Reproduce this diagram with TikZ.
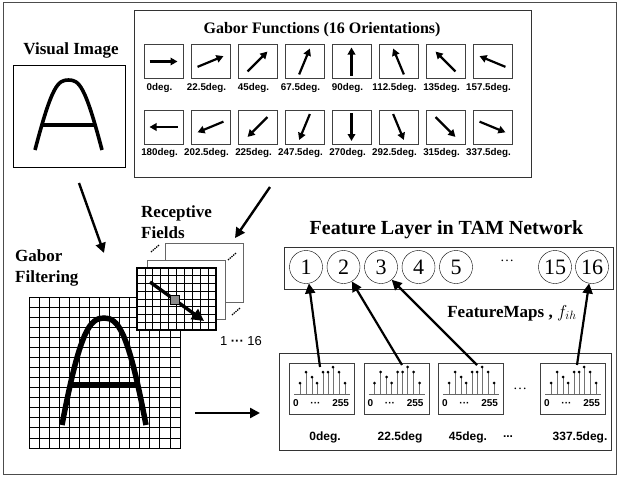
\documentclass[tikz,border=0pt]{standalone}
\usepackage{fontspec}
\setmainfont{Liberation Serif}
\setsansfont{Liberation Sans}
\usetikzlibrary{arrows.meta,calc}

\tikzset{
  ttl/.style={font=\bfseries\fontsize{17}{21}\selectfont, inner sep=0pt, align=left},
  gbox/.style={draw=black!75, minimum width=39pt, minimum height=34pt, inner sep=0pt},
  garrow/.style={-{Triangle[length=7pt,width=7.5pt]}, line width=2.2pt},
  deglab/.style={font=\sffamily\bfseries\fontsize{9.8}{10}\selectfont, inner sep=0pt},
  bigarrow/.style={-{Triangle[length=10pt,width=10pt]}, line width=2.4pt},
  gline/.style={line width=0.8pt},
  plane/.style={draw=black!60, fill=white, line width=1pt, minimum width=78pt, minimum height=59pt, inner sep=0pt},
  dots/.style={densely dotted, line width=1.3pt},
  unit/.style={draw, circle, minimum size=33pt, inner sep=0pt, font=\fontsize{22}{22}\selectfont},
  hbox/.style={draw=black!75, minimum width=65pt, minimum height=51pt, inner sep=0pt},
  stem/.style={black!55, line width=1pt},
  hlab/.style={font=\sffamily\bfseries\fontsize{10}{10}\selectfont, inner sep=0pt},
  hdeg/.style={font=\sffamily\bfseries\fontsize{12}{12}\selectfont, inner sep=0pt},
}

\begin{document}
\begin{tikzpicture}[x=1pt,y=-1pt]
  \useasboundingbox (0,0) rectangle (619,479);
  \draw[black!70] (3,2) rectangle (616,474);

  % visual image
  \node[ttl] (vtitle) at (71,50) {Visual Image};
  \node[draw, minimum width=112pt, minimum height=102pt, inner sep=0pt] (vis) at (69,116) {};
  \draw[line width=3.6pt] (35,150) .. controls (52,85) and (58,80) .. (68.5,80)
        .. controls (79,80) and (85,85) .. (102,150);
  \draw[line width=3.6pt] (42,125) -- (95,125);

  % gabor functions
  \node[draw=black!80, minimum width=397pt, minimum height=167pt, inner sep=0pt] (gab) at (332.5,93.5) {};
  \node[font=\bfseries\fontsize{16}{18}\selectfont] (gtitle) at (322,30) {Gabor Functions (16 Orientations)};
  \foreach \k/\a in {0/0,1/22.5,2/45,3/67.5,4/90,5/112.5,6/135,7/157.5,
                     8/180,9/202.5,10/225,11/247.5,12/270,13/292.5,14/315,15/337.5} {
    \pgfmathtruncatemacro\col{mod(\k,8)}
    \pgfmathtruncatemacro\row{int(\k/8)}
    \node[gbox] (g\k) at ({163.5+47*\col},{61.5+65.5*\row}) {};
    \draw[garrow] ($(g\k)+(180-\a:14)$) -- ($(g\k)+(-\a:14)$);
    \node[deglab] (gl\k) at ($(g\k.south)+(-4,9)$) {\a deg.};
  }

  % arrows into the filtering stage
  \coordinate (va) at (79,183);
  \coordinate (vb) at (104,253);
  \coordinate (ga) at (270,187);
  \coordinate (gb) at (235,238);
  \draw[bigarrow] (va) -- (vb);
  \draw[bigarrow] (ga) -- (gb);

  % gabor filtering
  \node[ttl, anchor=west] (gf) at (15,267.5) {Gabor\\Filtering};
  \node[draw, minimum size=151pt, inner sep=0pt] (bigg) at (104.5,372.5) {};
  \foreach \i in {0,...,15} {
    \draw[gline] ({29+151/15*\i},297) -- ({29+151/15*\i},448);
    \draw[gline] (29,{297+151/15*\i}) -- (180,{297+151/15*\i});
  }
  \draw[line width=5.5pt] (62,425) .. controls (80,330) and (90,318) .. (104,318)
        .. controls (118,318) and (128,330) .. (146,425);
  \draw[line width=5.5pt] (70,385) -- (138,385);

  % receptive fields
  \node[ttl, anchor=west] (rf) at (141,222.5) {Receptive\\Fields};
  \node[plane] (pl3) at (204,272.5) {};
  \node[plane] (pl2) at (186,289.5) {};
  \node[draw, fill=white, line width=1.2pt, minimum width=79pt, minimum height=62pt, inner sep=0pt] (rfg) at (176.5,299) {};
  \foreach \i in {1,...,9}
    \draw[gline] ({137+7.9*\i},268) -- ({137+7.9*\i},330);
  \foreach \j in {1,...,7}
    \draw[gline] (137,{268+7.75*\j}) -- (216,{268+7.75*\j});
  \coordinate (ra) at (150,282);
  \coordinate (rb) at (204,321);
  \draw[line width=3.4pt, -{Triangle[length=12pt,width=12pt]}] (ra) -- (rb);
  \node[draw, fill=black!45, minimum size=9pt, inner sep=0pt] (px) at (175,300) {};
  \draw[dots] (151,252) -- (159,245);
  \draw[dots] (228,260) -- (236,253);
  \draw[dots] (232,315) -- (240,308);
  \node[font=\sffamily\fontsize{13}{13}\selectfont, inner sep=0pt] (rng) at (241,341) {1 \textbf{···} 16};

  % feature layer
  \node[font=\bfseries\fontsize{20}{22}\selectfont] (ftitle) at (446.5,230) {Feature Layer in TAM Network};
  \node[draw=black!80, minimum width=329pt, minimum height=42pt, inner sep=0pt] (fl) at (448.5,268) {};
  \foreach \n/\x in {1/306,2/343.5,3/381,4/418.5,5/456,15/555,16/592}
    \node[unit] (c\n) at (\x,267) {\n};
  \node[font=\fontsize{14}{14}\selectfont, inner sep=0pt] (cdots) at (507,261) {\dots};
  \node[font=\bfseries\fontsize{17}{17}\selectfont] (fm) at (512,313) {FeatureMaps , $f_{ih}$};

  % histograms
  \node[draw=black!80, minimum width=332pt, minimum height=97pt, inner sep=0pt] (hc) at (445,401.5) {};
  \foreach \n/\x in {1/289,2/363.5,3/438,4/540} {
    \node[hbox, anchor=north west] (h\n) at (\x,363) {};
    \draw[black!60] ({\x+5},394) -- ({\x+61},394);
    \foreach \o/\hh in {11/11,17/22,23/17,28/11,34/22,39/22,44/27,50/22,56/11} {
      \draw[stem] ({\x+\o},394) -- ({\x+\o},{394-\hh});
      \fill ({\x+\o},{394-\hh}) circle[radius=1.5pt];
    }
    \node[hlab] (hl\n) at ({\x+32},403) {\hbox to 56pt{0\hfill ···\hfill 255}};
  }
  \node[font=\fontsize{14}{14}\selectfont, inner sep=0pt] (hdots) at (520,389) {\dots};
  \foreach \n/\x/\t in {1/325/0deg.,2/400/22.5deg,3/468/45deg.,4/580/337.5deg.}
    \node[hdeg] (hd\n) at (\x,437) {\t};
  \node[hdeg] (hddots) at (508,437) {...};

  % arrows to the feature maps
  \coordinate (s1) at ($(h1.north west)+(31,4)$);
  \coordinate (s2) at ($(h2.north west)+(38.5,2)$);
  \coordinate (s3) at ($(h3.north west)+(39,2)$);
  \coordinate (s4) at ($(h4.north west)+(37,2)$);
  \draw[bigarrow, line width=2.2pt] (s1) -- (c1.-80);
  \draw[bigarrow, line width=2.2pt] (s2) -- (c2.-60);
  \draw[bigarrow, line width=2.2pt] (s3) -- (c3.-50);
  \draw[bigarrow, line width=2.2pt] (s4) -- (c16.-100);

  \coordinate (ba) at (195,413);
  \coordinate (bb) at (260,413);
  \draw[bigarrow] (ba) -- (bb);
\end{tikzpicture}
\end{document}
